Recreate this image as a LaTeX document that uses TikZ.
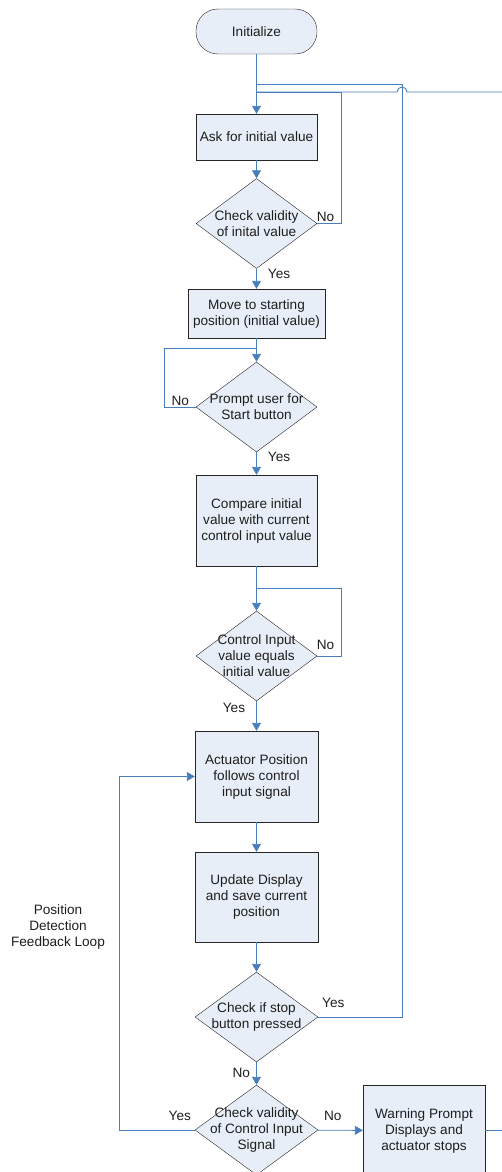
\documentclass[tikz,border=0pt]{standalone}
\usepackage{fontspec}
\setmainfont{Liberation Sans}
\usetikzlibrary{arrows.meta,positioning,shapes.geometric}
\definecolor{FCBlue}{RGB}{74,126,187}
\definecolor{FCFill}{RGB}{232,238,248}
\definecolor{FCText}{RGB}{30,30,30}

\begin{document}
\begin{tikzpicture}[
  x=1pt, y=-1pt,
  font=\fontsize{13.6}{16}\selectfont, text=FCText,
  box/.style={draw=black!85, fill=FCFill, minimum width=121pt, minimum height=46pt, align=center, inner sep=2pt},
  term/.style={box, rounded corners=22pt, minimum height=45pt},
  decision/.style={diamond, draw=black!85, fill=FCFill, minimum width=121pt, minimum height=90pt, inner sep=0pt},
  dtext/.style={label={[align=center, text=FCText]center:#1}},
  line/.style={-{Triangle[length=8pt,width=9pt]}, draw=FCBlue, line width=0.9pt},
  wire/.style={draw=FCBlue, line width=0.9pt},
  tag/.style={inner sep=1pt}
]
\useasboundingbox (0,0) rectangle (502,1172);

\node[term] (init) at (256.5,31.5) {Initialize};
\node[box] (ask) at (256.5,137) {Ask for initial value};
\node[decision, dtext={Check validity\\of inital value}] (chkinit) at (256.5,223.5) {};
\node[box, minimum width=137pt, minimum height=49pt] (move) at (256.5,313.5) {Move to starting\\position (initial value)};
\node[decision, dtext={Prompt user for\\Start button}] (start) at (256.5,407) {};
\node[box, minimum height=91pt] (cmp) at (256.5,520.5) {Compare initial\\value with current\\control input value};
\node[decision, dtext={Control Input\\value equals\\initial value}] (ctrl) at (256.5,656) {};
\node[box, minimum width=123pt, minimum height=91pt] (act) at (256.5,776.5) {Actuator Position\\follows control\\input signal};
\node[box, minimum width=123pt, minimum height=90pt] (upd) at (256.5,897) {Update Display\\and save current\\position};
\node[decision, minimum width=123pt, dtext={Check if stop\\button pressed}] (stop) at (256.5,1017) {};
\node[decision, minimum width=123pt, dtext={Check validity\\of Control Input\\Signal}] (valid) at (256.5,1130) {};
\node[box, minimum width=122pt, minimum height=91pt] (warn) at (424,1130.5) {Warning Prompt\\Displays and\\actuator stops};
\node[align=center] (fbloop) at (58,927) {Position\\Detection\\Feedback Loop};

% junctions and free ends
\coordinate (j0) at (256.5,84);
\coordinate (j1) at (256.5,92);
\coordinate (j2) at (256.5,348);
\coordinate (j3) at (256.5,588);
\coordinate (rtop) at (402,84);
\coordinate (topfar) at (502,92);
\coordinate (warnfar) at (502,1130.5);

\draw[line] (init) -- (ask);
\draw[line] (ask) -- (chkinit);
\draw[line] (chkinit) -- node[tag, pos=0.25, right=10pt] {Yes} (move);
\draw[wire] (chkinit.east) -- node[tag, pos=0.35, above] {No} ++(24,0) |- (j1);
\draw[wire] (j1) -- (397,92) arc[start angle=180, end angle=0, radius=5pt] -- (topfar);
\draw[line] (move) -- (start);
\draw[wire] (start.west) -- node[tag, pos=0.5, above] {No} ++(-31,0) |- (j2);
\draw[line] (start) -- node[tag, pos=0.2, right=10pt] {Yes} (cmp);
\draw[line] (cmp) -- (ctrl);
\draw[wire] (ctrl.east) -- node[tag, pos=0.35, above=5pt] {No} ++(24,0) |- (j3);
\draw[line] (ctrl) -- node[tag, pos=0.23, left=10pt] {Yes} (act);
\draw[line] (act) -- (upd);
\draw[line] (upd) -- (stop);
\draw[wire] (stop.east) -- node[tag, pos=0.18, above=8pt] {Yes} (stop.east -| rtop) -- (rtop) -- (j0);
\draw[line] (stop) -- node[tag, pos=0.48, left=5pt] {No} (valid);
\draw[line] (valid.west) -- node[tag, pos=0.2, above=8pt] {Yes} ++(-75,0) |- (act.west);
\draw[line] (valid) -- node[tag, pos=0.33, above=8pt] {No} (warn);
\draw[wire] (warn.east) -- (warnfar);
\end{tikzpicture}
\end{document}
